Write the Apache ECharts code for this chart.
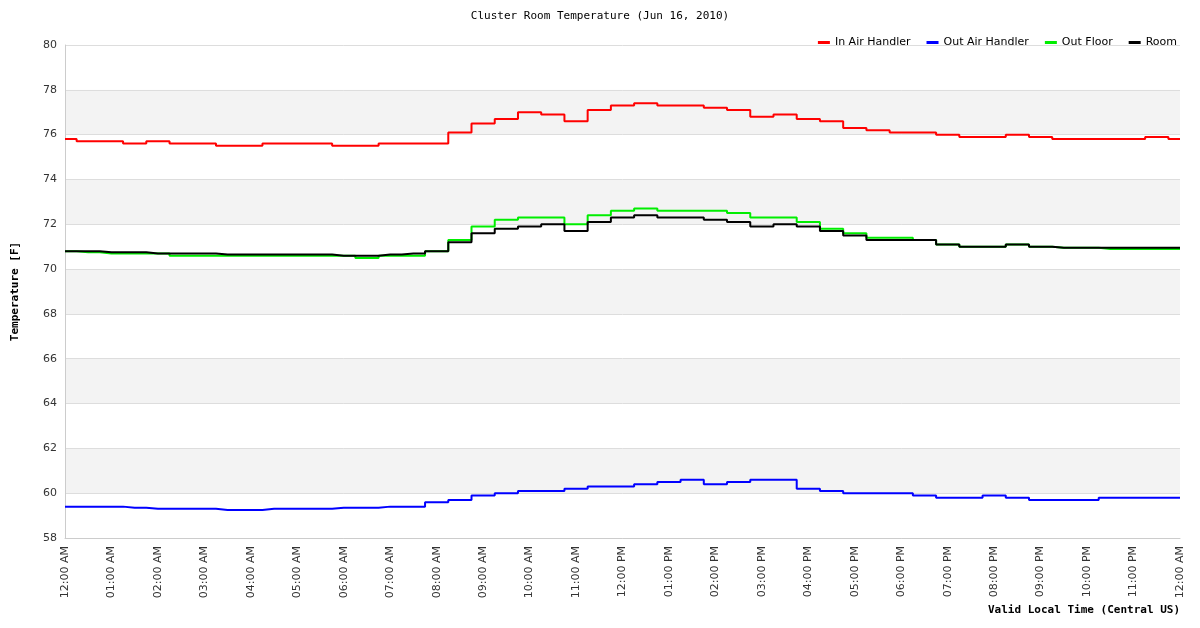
<!DOCTYPE html>
<html><head><meta charset="utf-8">
<script src="https://cdn.jsdelivr.net/npm/echarts@6/dist/echarts.min.js"></script>
<style>html,body{margin:0;padding:0;background:#fff}#c{width:1200px;height:628px}</style>
</head><body><div id="c"></div>
<script>
const times = [];
const hourLabels = ['12:00 AM','01:00 AM','02:00 AM','03:00 AM','04:00 AM','05:00 AM','06:00 AM','07:00 AM','08:00 AM','09:00 AM','10:00 AM','11:00 AM','12:00 PM','01:00 PM','02:00 PM','03:00 PM','04:00 PM','05:00 PM','06:00 PM','07:00 PM','08:00 PM','09:00 PM','10:00 PM','11:00 PM','12:00 AM'];
hourLabels.forEach((h,i)=>{times.push(h); if(i<hourLabels.length-1) times.push(h.replace(':00',':30'));});
const inAir = [75.8,75.7,75.7,75.6,75.7,75.6,75.6,75.5,75.5,75.6,75.6,75.6,75.5,75.5,75.6,75.6,75.6,76.1,76.5,76.7,77.0,76.9,76.6,77.1,77.3,77.4,77.3,77.3,77.2,77.1,76.8,76.9,76.7,76.6,76.3,76.2,76.1,76.1,76.0,75.9,75.9,76.0,75.9,75.8,75.8,75.8,75.8,75.9,75.8];
const outAir = [59.4,59.4,59.4,59.35,59.3,59.3,59.3,59.25,59.25,59.3,59.3,59.3,59.35,59.35,59.4,59.4,59.6,59.7,59.9,60.0,60.1,60.1,60.2,60.3,60.3,60.4,60.5,60.6,60.4,60.5,60.6,60.6,60.2,60.1,60.0,60.0,60.0,59.9,59.8,59.8,59.9,59.8,59.7,59.7,59.7,59.8,59.8,59.8,59.8];
const outFloor = [70.8,70.75,70.7,70.7,70.7,70.6,70.6,70.6,70.6,70.6,70.6,70.6,70.6,70.5,70.6,70.6,70.8,71.3,71.9,72.2,72.3,72.3,72.0,72.4,72.6,72.7,72.6,72.6,72.6,72.5,72.3,72.3,72.1,71.8,71.6,71.4,71.4,71.3,71.1,71.0,71.0,71.1,71.0,70.95,70.95,70.9,70.9,70.9,70.9];
const room = [70.8,70.8,70.75,70.75,70.7,70.7,70.7,70.65,70.65,70.65,70.65,70.65,70.6,70.6,70.65,70.7,70.8,71.2,71.6,71.8,71.9,72.0,71.7,72.1,72.3,72.4,72.3,72.3,72.2,72.1,71.9,72.0,71.9,71.7,71.5,71.3,71.3,71.3,71.1,71.0,71.0,71.1,71.0,70.95,70.95,70.95,70.95,70.95,70.95];
const mono = 'DejaVu Sans Mono';
const chart = echarts.init(document.getElementById('c'));
const mk = (name,data,color)=>({name,type:'line',data,step:'middle',symbol:'none',lineStyle:{color,width:2},itemStyle:{color}});
chart.setOption({
  animation:false,
  title:{text:'Cluster Room Temperature (Jun 16, 2010)',left:'center',top:6,textStyle:{fontFamily:mono,fontSize:11,fontWeight:'normal',color:'#000'}},
  legend:{right:18,top:32,itemWidth:12,itemHeight:3,itemGap:16,icon:'rect',textStyle:{fontFamily:'DejaVu Sans',fontSize:11,color:'#000'}},
  grid:{left:65,right:20,top:45,bottom:90},
  xAxis:{type:'category',data:times,boundaryGap:false,
    axisLine:{lineStyle:{color:'#ccc'}},axisTick:{show:false},
    axisLabel:{interval:1,rotate:90,fontFamily:'DejaVu Sans',fontSize:11,color:'#333',margin:8},
    splitLine:{show:false}},
  yAxis:{type:'value',min:58,max:80,interval:2,name:'Temperature [F]',nameLocation:'middle',nameGap:44,
    nameTextStyle:{fontFamily:mono,fontSize:11,fontWeight:'bold',color:'#000'},
    axisLine:{show:true,lineStyle:{color:'#ccc'}},axisTick:{show:false},
    axisLabel:{fontFamily:'DejaVu Sans',fontSize:11,color:'#333'},
    splitLine:{lineStyle:{color:'#ddd'}},
    splitArea:{show:true,areaStyle:{color:['#ffffff','#f3f3f3']}}},
  graphic:[{type:'text',right:20,top:605,style:{text:'Valid Local Time (Central US)',font:'bold 11px "DejaVu Sans Mono"',fill:'#000'}}],
  series:[mk('In Air Handler',inAir,'#ff0000'),mk('Out Air Handler',outAir,'#0000ff'),mk('Out Floor',outFloor,'#00ee00'),mk('Room',room,'#000000')]
});
</script></body></html>
